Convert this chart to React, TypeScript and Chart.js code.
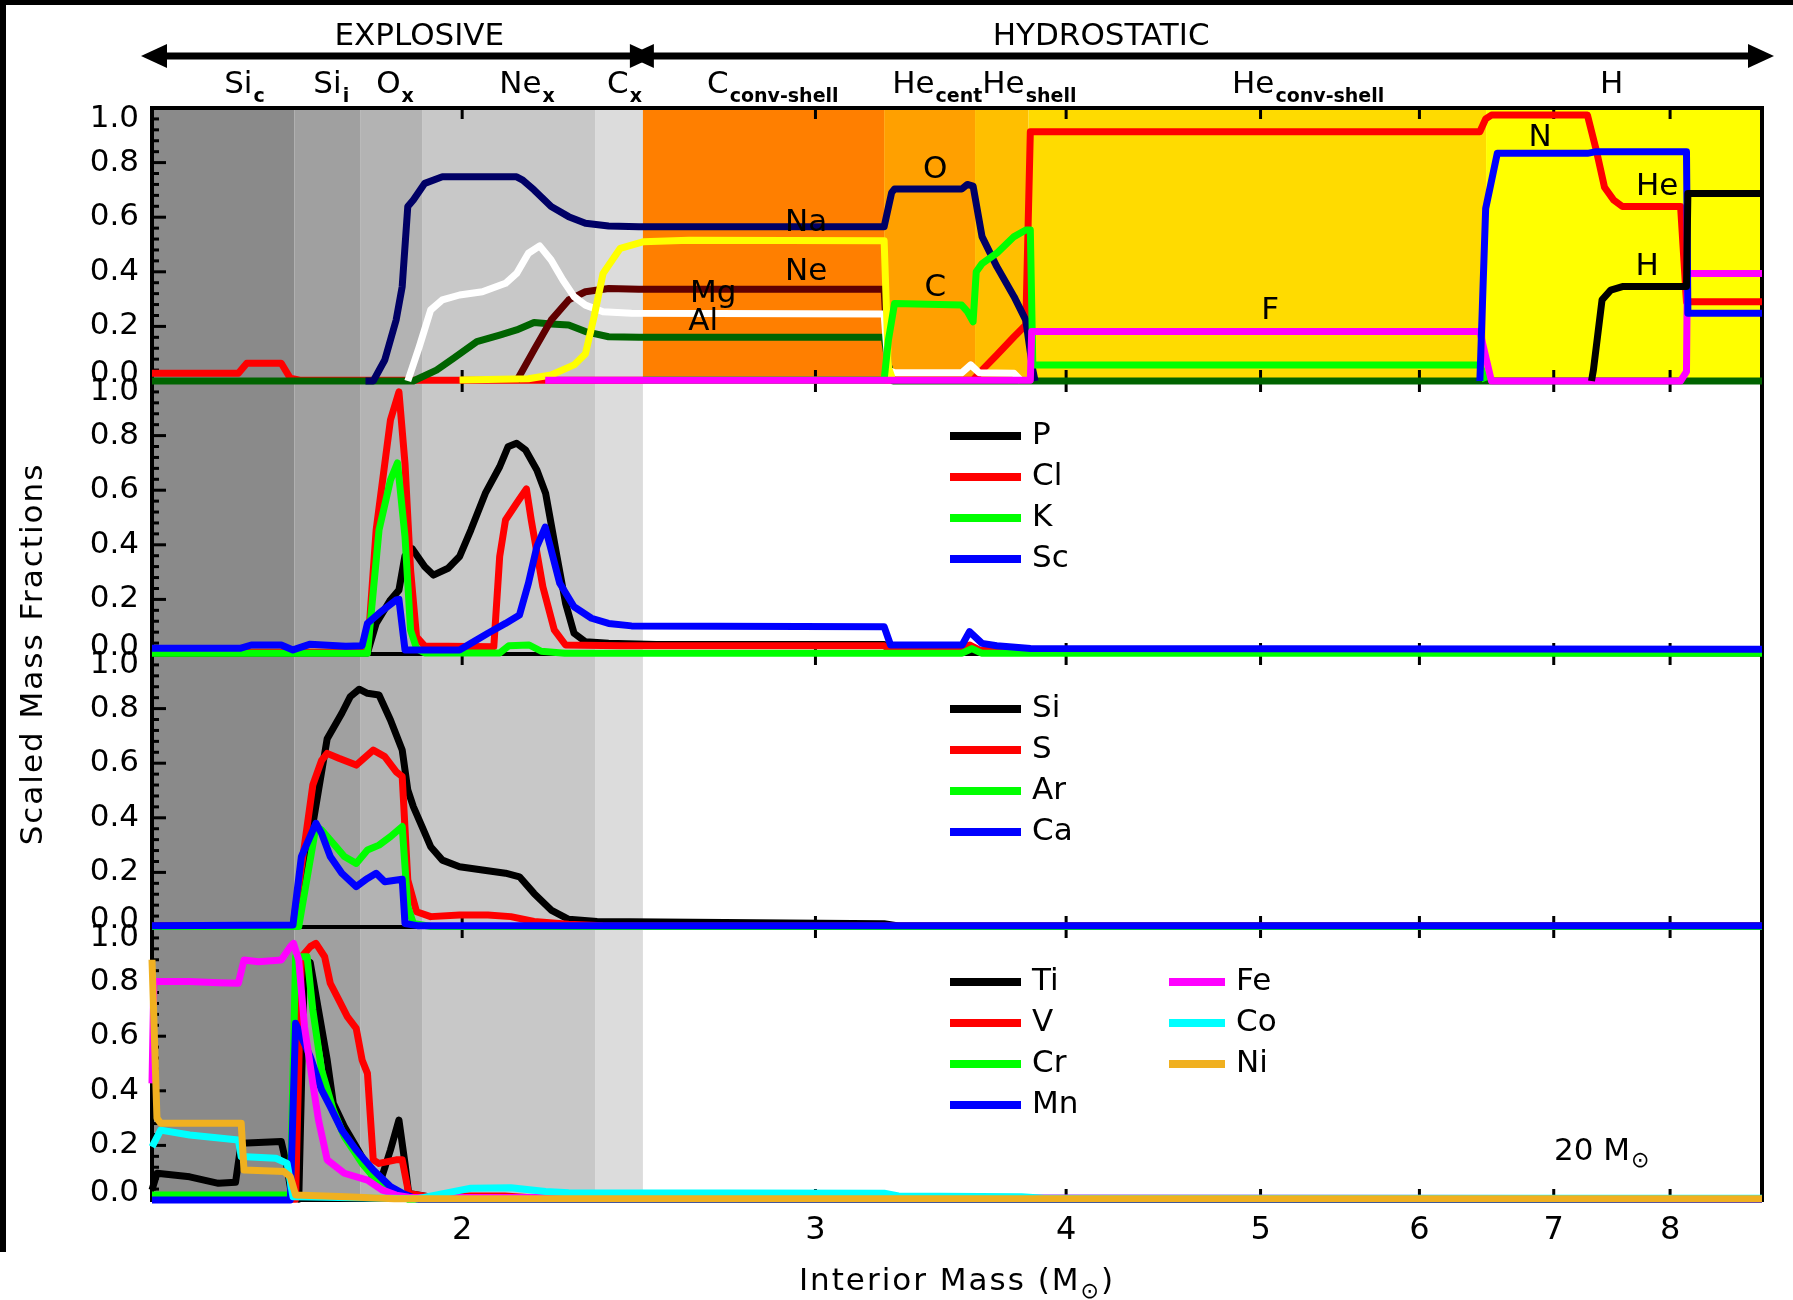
import React, { useEffect, useRef } from "react";
import { Chart, registerables } from "chart.js";

Chart.register(...registerables);

type Pt = [number, number];

// ---------------- axis & zone data ----------------
const massMin = 1.401;
const massMax = 8.89;
const massTicks = [2, 3, 4, 5, 6, 7, 8];
const yTickValues = [0, 0.2, 0.4, 0.6, 0.8, 1.0];

const zoneEdges = [1.401, 1.65, 1.779, 1.91, 2.331, 2.461, 3.246, 3.603, 3.831, 6.477, 8.89];
const zoneMain = ["Si", "Si", "O", "Ne", "C", "C", "He", "He", "He", "H"];
const zoneSub = ["c", "i", "x", "x", "x", "conv-shell", "cent", "shell", "conv-shell", ""];
const zoneLabelMass = [1.522, 1.686, 1.812, 2.087, 2.362, 2.649, 3.276, 3.633, 4.839, 7.381];
const regimeNames = ["EXPLOSIVE", "HYDROSTATIC"];
const regimeLabelMass = [1.904, 4.164];
const regimeBoundaryMass = 2.461;

// ---------------- panel 1 (major species) ----------------
const p1H: Pt[] = [[7.31, 0], [7.326, 0.04], [7.399, 0.297], [7.473, 0.333], [7.574, 0.346], [8.152, 0.346], [8.165, 0.687], [8.89, 0.687]];
const p1N: Pt[] = [[6.431, 0], [6.474, 0.632], [6.561, 0.834], [7.276, 0.834], [7.35, 0.84], [8.152, 0.84], [8.165, 0.248], [8.89, 0.248]];
const p1F: Pt[] = [[2.2, 0.003], [3.839, 0.003], [3.845, 0.181], [6.431, 0.181], [6.474, 0.09], [6.517, 0], [8.097, 0], [8.152, 0.034], [8.16, 0.394], [8.89, 0.394]];
const p1C: Pt[] = [[2.461, 0.004], [3.246, 0.004], [3.262, 0.15], [3.285, 0.284], [3.548, 0.278], [3.571, 0.255], [3.595, 0.217], [3.608, 0.4], [3.632, 0.43], [3.694, 0.468], [3.768, 0.529], [3.819, 0.553], [3.839, 0.553], [3.85, 0.059], [6.431, 0.059], [6.474, 0]];
const p1O: Pt[] = [[1.79, 0], [1.806, 0], [1.83, 0.077], [1.854, 0.223], [1.867, 0.346], [1.879, 0.639], [1.891, 0.663], [1.916, 0.724], [1.955, 0.748], [2.129, 0.748], [2.144, 0.736], [2.172, 0.7], [2.215, 0.639], [2.26, 0.602], [2.304, 0.578], [2.366, 0.568], [2.45, 0.565], [3.246, 0.565], [3.274, 0.69], [3.285, 0.703], [3.548, 0.703], [3.571, 0.72], [3.595, 0.714], [3.632, 0.529], [3.694, 0.419], [3.768, 0.309], [3.819, 0.223], [3.85, 0.04], [3.86, 0]];
const p1Na: Pt[] = [[1.994, 0.004], [2.158, 0.008], [2.215, 0.022], [2.274, 0.059], [2.304, 0.1], [2.327, 0.236], [2.351, 0.394], [2.398, 0.486], [2.461, 0.51], [2.595, 0.516], [3.246, 0.514], [3.262, 0.05], [3.28, 0]];
const p1Mg: Pt[] = [[1.879, 0], [1.904, 0.126], [1.929, 0.26], [1.955, 0.297], [1.994, 0.315], [2.047, 0.327], [2.102, 0.358], [2.129, 0.394], [2.158, 0.468], [2.186, 0.495], [2.215, 0.443], [2.245, 0.37], [2.274, 0.309], [2.304, 0.278], [2.351, 0.254], [2.429, 0.248], [3.246, 0.245], [3.262, 0.04], [3.285, 0.03], [3.548, 0.03], [3.585, 0.059], [3.62, 0.03], [3.768, 0.028], [3.8, 0]];
const p1Ne: Pt[] = [[2.129, 0], [2.172, 0.114], [2.215, 0.223], [2.26, 0.297], [2.304, 0.327], [2.366, 0.339], [2.45, 0.336], [3.246, 0.336], [3.262, 0.05], [3.275, 0]];
const p1Al: Pt[] = [[1.401, 0], [1.891, 0], [1.942, 0.04], [1.98, 0.083], [2.034, 0.144], [2.088, 0.168], [2.129, 0.187], [2.172, 0.214], [2.215, 0.209], [2.26, 0.205], [2.304, 0.181], [2.366, 0.162], [2.45, 0.16], [3.246, 0.16], [3.262, 0.06], [3.28, 0], [8.89, 0]];
const p1He: Pt[] = [[1.401, 0.028], [1.547, 0.028], [1.562, 0.065], [1.625, 0.065], [1.642, 0.01], [1.66, 0.003], [3.595, 0.003], [3.632, 0.04], [3.694, 0.095], [3.768, 0.162], [3.819, 0.205], [3.839, 0.913], [6.431, 0.913], [6.474, 0.96], [6.517, 0.974], [7.276, 0.974], [7.35, 0.846], [7.42, 0.71], [7.498, 0.663], [7.574, 0.639], [8.097, 0.639], [8.152, 0.29], [8.89, 0.29]];

// ---------------- panel 2 ----------------
const p2P: Pt[] = [[1.401, 0.004], [1.794, 0.004], [1.812, 0.112], [1.842, 0.198], [1.86, 0.234], [1.873, 0.36], [1.889, 0.385], [1.916, 0.32], [1.935, 0.289], [1.968, 0.314], [1.994, 0.357], [2.02, 0.454], [2.054, 0.589], [2.088, 0.686], [2.108, 0.759], [2.129, 0.772], [2.151, 0.747], [2.179, 0.674], [2.201, 0.589], [2.23, 0.357], [2.252, 0.186], [2.274, 0.076], [2.304, 0.045], [2.366, 0.039], [2.5, 0.035], [3.246, 0.035], [3.27, 0.008], [8.89, 0.004]];
const p2Cl: Pt[] = [[1.401, 0.006], [1.794, 0.006], [1.812, 0.454], [1.842, 0.857], [1.86, 0.96], [1.873, 0.698], [1.885, 0.308], [1.898, 0.063], [1.916, 0.029], [2.074, 0.027], [2.088, 0.357], [2.102, 0.491], [2.129, 0.552], [2.153, 0.605], [2.165, 0.491], [2.194, 0.247], [2.223, 0.088], [2.252, 0.033], [2.4, 0.03], [3.246, 0.03], [3.27, 0.015], [3.55, 0.015], [3.58, 0.033], [3.62, 0.015], [8.89, 0.012]];
const p2K: Pt[] = [[1.401, 0.003], [1.794, 0.003], [1.818, 0.454], [1.842, 0.637], [1.857, 0.7], [1.873, 0.43], [1.885, 0.088], [1.898, 0.02], [1.916, 0.004], [2.088, 0.004], [2.11, 0.03], [2.16, 0.033], [2.19, 0.01], [2.25, 0.003], [3.55, 0.003], [3.59, 0.02], [3.63, 0.003], [8.89, 0.003]];
const p2Sc: Pt[] = [[1.401, 0.021], [1.55, 0.021], [1.57, 0.033], [1.625, 0.033], [1.647, 0.015], [1.68, 0.036], [1.75, 0.028], [1.783, 0.03], [1.794, 0.112], [1.818, 0.149], [1.854, 0.198], [1.86, 0.2], [1.873, 0.015], [1.994, 0.015], [2.02, 0.039], [2.06, 0.076], [2.102, 0.112], [2.136, 0.143], [2.158, 0.259], [2.179, 0.393], [2.2, 0.465], [2.215, 0.381], [2.237, 0.259], [2.274, 0.173], [2.32, 0.131], [2.366, 0.112], [2.429, 0.103], [3.246, 0.1], [3.27, 0.033], [3.55, 0.033], [3.58, 0.082], [3.632, 0.039], [3.694, 0.03], [3.84, 0.02], [8.89, 0.017]];

// ---------------- panel 3 ----------------
const p3Si: Pt[] = [[1.401, 0.004], [1.652, 0.004], [1.674, 0.25], [1.696, 0.5], [1.713, 0.69], [1.742, 0.783], [1.759, 0.844], [1.777, 0.871], [1.794, 0.856], [1.818, 0.85], [1.842, 0.758], [1.867, 0.648], [1.879, 0.502], [1.891, 0.441], [1.91, 0.368], [1.929, 0.294], [1.955, 0.245], [1.994, 0.221], [2.047, 0.209], [2.102, 0.197], [2.136, 0.184], [2.172, 0.123], [2.215, 0.062], [2.26, 0.028], [2.335, 0.02], [3.246, 0.012], [3.3, 0.004], [8.89, 0.004]];
const p3S: Pt[] = [[1.401, 0.004], [1.647, 0.004], [1.669, 0.3], [1.685, 0.52], [1.702, 0.61], [1.713, 0.636], [1.736, 0.618], [1.771, 0.593], [1.806, 0.648], [1.83, 0.624], [1.854, 0.569], [1.867, 0.551], [1.879, 0.172], [1.898, 0.056], [1.929, 0.038], [1.994, 0.044], [2.06, 0.044], [2.115, 0.038], [2.172, 0.02], [2.26, 0.01], [2.35, 0.005], [8.89, 0.004]];
const p3Ar: Pt[] = [[1.401, 0.002], [1.658, 0.002], [1.691, 0.368], [1.702, 0.355], [1.725, 0.306], [1.747, 0.258], [1.771, 0.233], [1.794, 0.282], [1.818, 0.3], [1.842, 0.331], [1.867, 0.368], [1.879, 0.075], [1.891, 0.013], [1.93, 0.002], [8.89, 0.002]];
const p3Ca: Pt[] = [[1.401, 0.005], [1.647, 0.007], [1.663, 0.258], [1.691, 0.38], [1.702, 0.343], [1.719, 0.258], [1.742, 0.197], [1.771, 0.148], [1.794, 0.178], [1.812, 0.197], [1.83, 0.166], [1.867, 0.175], [1.873, 0.013], [1.9, 0.005], [8.89, 0.005]];

// ---------------- panel 4 ----------------
const p4Ti: Pt[] = [[1.401, 0.037], [1.409, 0.098], [1.463, 0.085], [1.512, 0.061], [1.542, 0.065], [1.552, 0.208], [1.625, 0.214], [1.636, 0.12], [1.645, 0.01], [1.658, 0.003], [1.669, 0.879], [1.68, 0.87], [1.696, 0.696], [1.713, 0.513], [1.725, 0.354], [1.747, 0.269], [1.771, 0.195], [1.794, 0.122], [1.812, 0.061], [1.824, 0.085], [1.842, 0.183], [1.86, 0.293], [1.873, 0.134], [1.881, 0.024], [1.95, 0.005], [8.89, 0.003]];
const p4V: Pt[] = [[1.401, 0.003], [1.652, 0.003], [1.663, 0.89], [1.68, 0.928], [1.691, 0.94], [1.708, 0.891], [1.719, 0.794], [1.736, 0.733], [1.753, 0.672], [1.771, 0.629], [1.783, 0.513], [1.794, 0.464], [1.806, 0.147], [1.818, 0.134], [1.854, 0.147], [1.867, 0.147], [1.881, 0.024], [1.95, 0.005], [1.994, 0.015], [2.1, 0.015], [2.2, 0.005], [8.89, 0.003]];
const p4Cr: Pt[] = [[1.401, 0.018], [1.642, 0.018], [1.652, 0.891], [1.674, 0.891], [1.685, 0.696], [1.702, 0.476], [1.725, 0.33], [1.747, 0.232], [1.783, 0.134], [1.818, 0.061], [1.854, 0.03], [1.88, 0.003], [8.89, 0.002]];
const p4Mn: Pt[] = [[1.401, 0], [1.642, 0], [1.652, 0.647], [1.663, 0.598], [1.68, 0.525], [1.702, 0.403], [1.719, 0.342], [1.742, 0.256], [1.771, 0.183], [1.806, 0.11], [1.842, 0.049], [1.867, 0.025], [1.9, 0.003], [8.89, 0.003]];
const p4Fe: Pt[] = [[1.401, 0.427], [1.404, 0.8], [1.463, 0.8], [1.512, 0.796], [1.547, 0.794], [1.557, 0.879], [1.583, 0.873], [1.625, 0.879], [1.642, 0.928], [1.648, 0.94], [1.658, 0.879], [1.669, 0.635], [1.685, 0.427], [1.696, 0.293], [1.713, 0.147], [1.747, 0.098], [1.794, 0.073], [1.824, 0.037], [1.854, 0.018], [1.881, 0.01], [8.89, 0.005]];
const p4Co: Pt[] = [[1.401, 0.195], [1.415, 0.256], [1.463, 0.238], [1.547, 0.22], [1.552, 0.159], [1.615, 0.153], [1.636, 0.134], [1.647, 0.012], [1.9, 0.005], [1.968, 0.027], [2.02, 0.043], [2.115, 0.045], [2.201, 0.031], [2.26, 0.027], [3.246, 0.025], [3.3, 0.015], [3.8, 0.012], [3.9, 0.006], [8.89, 0.006]];
const p4Ni: Pt[] = [[1.401, 0.88], [1.409, 0.3], [1.415, 0.281], [1.552, 0.281], [1.557, 0.11], [1.63, 0.104], [1.642, 0.085], [1.652, 0.018], [1.75, 0.012], [1.85, 0.005], [8.89, 0.005]];

// panel-1 in-plot species labels: [text, mass, value]
const panel1Labels: [string, number, number][] = [
  ["Na", 2.968, 0.578], ["Ne", 2.968, 0.4], ["Mg", 2.668, 0.32], ["Al", 2.637, 0.216],
  ["O", 3.442, 0.773], ["C", 3.442, 0.34], ["F", 5.055, 0.256],
  ["N", 6.891, 0.89], ["He", 7.882, 0.71], ["H", 7.792, 0.417],
];

// ---------------- series (first = drawn on top) ----------------
type Series = { label: string; data: Pt[]; color: string; axis: string };
const seriesList: Series[] = [
  { label: "Ni", data: p4Ni, color: "#f0b020", axis: "y4" },
  { label: "Co", data: p4Co, color: "#00ffff", axis: "y4" },
  { label: "Fe", data: p4Fe, color: "#ff00ff", axis: "y4" },
  { label: "Mn", data: p4Mn, color: "#0000ff", axis: "y4" },
  { label: "Cr", data: p4Cr, color: "#00ff00", axis: "y4" },
  { label: "V", data: p4V, color: "#ff0000", axis: "y4" },
  { label: "Ti", data: p4Ti, color: "#000000", axis: "y4" },
  { label: "Ca", data: p3Ca, color: "#0000ff", axis: "y3" },
  { label: "Ar", data: p3Ar, color: "#00ff00", axis: "y3" },
  { label: "S", data: p3S, color: "#ff0000", axis: "y3" },
  { label: "Si", data: p3Si, color: "#000000", axis: "y3" },
  { label: "Sc", data: p2Sc, color: "#0000ff", axis: "y2" },
  { label: "K", data: p2K, color: "#00ff00", axis: "y2" },
  { label: "Cl", data: p2Cl, color: "#ff0000", axis: "y2" },
  { label: "P", data: p2P, color: "#000000", axis: "y2" },
  { label: "H", data: p1H, color: "#000000", axis: "y1" },
  { label: "N", data: p1N, color: "#0000ff", axis: "y1" },
  { label: "F", data: p1F, color: "#ff00ff", axis: "y1" },
  { label: "C", data: p1C, color: "#00ff00", axis: "y1" },
  { label: "O", data: p1O, color: "#000066", axis: "y1" },
  { label: "Na", data: p1Na, color: "#ffff00", axis: "y1" },
  { label: "Mg", data: p1Mg, color: "#ffffff", axis: "y1" },
  { label: "Ne", data: p1Ne, color: "#600000", axis: "y1" },
  { label: "Al", data: p1Al, color: "#006400", axis: "y1" },
  { label: "He", data: p1He, color: "#ff0000", axis: "y1" },
];

// legends per panel: [axis, column, labels]
const legendGroups: [string, number, string[]][] = [
  ["y2", 0, ["P", "Cl", "K", "Sc"]],
  ["y3", 0, ["Si", "S", "Ar", "Ca"]],
  ["y4", 0, ["Ti", "V", "Cr", "Mn"]],
  ["y4", 1, ["Fe", "Co", "Ni"]],
];

// ---------------- styling ----------------
const FONT = '"DejaVu Sans", "Liberation Sans", sans-serif';
const panelAxes = ["y1", "y2", "y3", "y4"];
const zoneColors = ["#8a8a8a", "#a0a0a0", "#b3b3b3", "#c8c8c8", "#dcdcdc", "#ff7f00", "#ffa000", "#ffbf00", "#ffdb00", "#ffff00"];
const grayZoneCount = 5;
const LINE_W = 7;

function subText(ctx: CanvasRenderingContext2D, x: number, y: number, main: string, sub: string, mainPx: number, subPx: number, subDy: number, bold: boolean) {
  ctx.textAlign = "left";
  ctx.textBaseline = "alphabetic";
  ctx.font = `${mainPx}px ${FONT}`;
  ctx.fillText(main, x, y);
  let w = ctx.measureText(main).width;
  if (sub) {
    ctx.font = `${bold ? "bold " : ""}${subPx}px ${FONT}`;
    ctx.fillText(sub, x + w + 1, y + subDy);
    w += ctx.measureText(sub).width + 1;
  }
  return w;
}

function arrow(ctx: CanvasRenderingContext2D, x0: number, x1: number, y: number) {
  const hl = 26, hw = 12;
  ctx.lineWidth = 7;
  ctx.beginPath();
  ctx.moveTo(x0 + hl - 2, y);
  ctx.lineTo(x1 - hl + 2, y);
  ctx.stroke();
  ctx.beginPath();
  ctx.moveTo(x0, y); ctx.lineTo(x0 + hl, y - hw); ctx.lineTo(x0 + hl, y + hw); ctx.closePath(); ctx.fill();
  ctx.beginPath();
  ctx.moveTo(x1, y); ctx.lineTo(x1 - hl, y - hw); ctx.lineTo(x1 - hl, y + hw); ctx.closePath(); ctx.fill();
}

const overlay = {
  id: "overlay",
  beforeDatasetsDraw(chart: any) {
    const ctx: CanvasRenderingContext2D = chart.ctx;
    const xs = chart.scales.x;
    const area = chart.chartArea;
    ctx.save();
    panelAxes.forEach((id, pi) => {
      const ys = chart.scales[id];
      for (let i = 0; i < zoneColors.length; i++) {
        if (pi > 0 && i >= grayZoneCount) continue;
        const x0 = xs.getPixelForValue(zoneEdges[i]);
        const x1 = xs.getPixelForValue(zoneEdges[i + 1]);
        ctx.fillStyle = zoneColors[i];
        ctx.fillRect(x0, ys.top, x1 - x0, ys.bottom - ys.top);
      }
    });
    ctx.strokeStyle = "#000";
    ctx.lineCap = "butt";
    panelAxes.forEach((id) => {
      const ys = chart.scales[id];
      // x ticks (inward) at top and bottom of each panel
      ctx.lineWidth = 3;
      massTicks.forEach((v) => {
        const px = xs.getPixelForValue(v);
        ctx.beginPath();
        ctx.moveTo(px, ys.top); ctx.lineTo(px, ys.top + 11);
        ctx.moveTo(px, ys.bottom); ctx.lineTo(px, ys.bottom - 11);
        ctx.stroke();
      });
      // y ticks: major 0.2, minor 0.04
      for (let k = 0; k <= 25; k++) {
        const py = ys.getPixelForValue(k * 0.04);
        const len = k % 5 === 0 ? 14 : 7;
        ctx.beginPath();
        ctx.moveTo(area.left, py); ctx.lineTo(area.left + len, py);
        ctx.stroke();
      }
      ctx.lineWidth = 4;
      ctx.strokeRect(area.left, ys.top, area.right - area.left, ys.bottom - ys.top);
    });
    ctx.restore();
  },
  afterDatasetsDraw(chart: any) {
    const ctx: CanvasRenderingContext2D = chart.ctx;
    const xs = chart.scales.x;
    const area = chart.chartArea;
    const y1 = chart.scales.y1;
    ctx.save();
    ctx.fillStyle = "#000";
    ctx.strokeStyle = "#000";

    // y tick labels
    ctx.font = `31px ${FONT}`;
    ctx.textAlign = "right";
    ctx.textBaseline = "middle";
    panelAxes.forEach((id) => {
      const ys = chart.scales[id];
      yTickValues.forEach((v) => {
        let py = ys.getPixelForValue(v);
        if (v === 1) py += 11;
        if (v === 0) py -= 7;
        ctx.fillText(v.toFixed(1), area.left - 13, py);
      });
    });

    // panel-1 species labels
    ctx.textAlign = "center";
    ctx.textBaseline = "middle";
    ctx.font = `31px ${FONT}`;
    panel1Labels.forEach(([t, m, v]) => {
      ctx.fillText(t, xs.getPixelForValue(m), y1.getPixelForValue(v));
    });

    // legends
    legendGroups.forEach(([axis, col, labels]) => {
      const ys = chart.scales[axis];
      const lx0 = area.left + (col === 0 ? 798 : 1017);
      const lx1 = area.left + (col === 0 ? 869 : 1073);
      labels.forEach((lab, i) => {
        const s = seriesList.find((q) => q.label === lab && q.axis === axis)!;
        const py = ys.top + 55 + 41 * i;
        ctx.strokeStyle = s.color;
        ctx.lineWidth = 8;
        ctx.beginPath();
        ctx.moveTo(lx0, py); ctx.lineTo(lx1, py);
        ctx.stroke();
        ctx.fillStyle = "#000";
        ctx.font = `31px ${FONT}`;
        ctx.textAlign = "left";
        ctx.textBaseline = "middle";
        ctx.fillText(lab, lx1 + 11, py);
      });
    });

    // 20 Msun
    const y4 = chart.scales.y4;
    ctx.fillStyle = "#000";
    subText(ctx, area.left + 1402, y4.top + 233, "20 M", "\u2299", 31, 22, 7, false);

    // zone labels
    const zoneBase = area.top - 15;
    zoneMain.forEach((m, i) => {
      subText(ctx, xs.getPixelForValue(zoneLabelMass[i]), zoneBase, m, zoneSub[i], 31, 19, 9, true);
    });

    // regime labels + arrows
    ctx.font = `31px ${FONT}`;
    ctx.textAlign = "center";
    ctx.textBaseline = "alphabetic";
    regimeNames.forEach((n, i) => {
      ctx.fillText(n, xs.getPixelForValue(regimeLabelMass[i]), 45);
    });
    ctx.strokeStyle = "#000";
    const bx = xs.getPixelForValue(regimeBoundaryMass);
    arrow(ctx, area.left - 11, bx + 13, 56);
    arrow(ctx, bx - 15, area.right + 12, 56);

    // y title
    ctx.save();
    ctx.translate(34, (area.top + area.bottom) / 2);
    ctx.rotate(-Math.PI / 2);
    ctx.textAlign = "center";
    ctx.textBaseline = "middle";
    (ctx as any).letterSpacing = "2px";
    ctx.font = `31px ${FONT}`;
    ctx.fillText("Scaled Mass Fractions", 0, 0);
    ctx.restore();

    // x title
    ctx.save();
    (ctx as any).letterSpacing = "2px";
    ctx.font = `31px ${FONT}`;
    const t1 = "Interior Mass (M";
    const w1 = ctx.measureText(t1).width;
    ctx.font = `22px ${FONT}`;
    const w2 = ctx.measureText("\u2299").width;
    ctx.font = `31px ${FONT}`;
    const w3 = ctx.measureText(")").width;
    let x = (area.left + area.right) / 2 - (w1 + w2 + w3) / 2;
    ctx.textAlign = "left";
    ctx.textBaseline = "alphabetic";
    ctx.fillText(t1, x, 1290);
    x += w1;
    ctx.font = `22px ${FONT}`;
    ctx.fillText("\u2299", x, 1298);
    x += w2;
    ctx.font = `31px ${FONT}`;
    ctx.fillText(")", x, 1290);
    ctx.restore();

    ctx.restore();
  },
  afterDraw(chart: any) {
    const ctx: CanvasRenderingContext2D = chart.ctx;
    ctx.save();
    ctx.fillStyle = "#000";
    ctx.fillRect(0, 0, chart.width, 5);
    ctx.fillRect(0, 0, 6, 1252);
    ctx.restore();
  },
};

export default function App() {
  const ref = useRef<HTMLCanvasElement | null>(null);
  useEffect(() => {
    const canvas = ref.current;
    if (!canvas) return;
    const datasets = seriesList.map((s) => ({
      label: s.label,
      data: s.data.map(([x, y]) => ({ x, y })),
      yAxisID: s.axis,
      borderColor: s.color,
      backgroundColor: s.color,
      borderWidth: LINE_W,
      pointRadius: 0,
      tension: 0,
      fill: false,
      clip: false as any,
      borderJoinStyle: "round" as const,
    }));
    const yScale = (weight: number) => ({
      type: "linear" as const,
      min: 0,
      max: 1,
      display: false,
      position: "left" as const,
      stack: "panels",
      stackWeight: 1,
      weight,
    });
    const chart = new Chart(canvas, {
      type: "line",
      data: { datasets: datasets as any },
      options: {
        responsive: false,
        animation: false,
        devicePixelRatio: 1,
        events: [],
        layout: { padding: { left: 152, right: 31, top: 108, bottom: 0 } },
        plugins: { legend: { display: false }, tooltip: { enabled: false } },
        scales: {
          x: {
            type: "logarithmic",
            min: massMin,
            max: massMax,
            position: "bottom",
            grid: { display: false, drawTicks: false },
            border: { display: false },
            ticks: {
              autoSkip: false,
              maxRotation: 0,
              padding: 11,
              color: "#000",
              font: { family: FONT, size: 32 },
              callback: (v: any) => String(v),
            },
            afterBuildTicks: (s: any) => {
              s.ticks = massTicks.map((v) => ({ value: v }));
            },
            afterFit: (s: any) => {
              s.height = 100;
            },
          },
          y1: yScale(4),
          y2: yScale(3),
          y3: yScale(2),
          y4: yScale(1),
        } as any,
      },
      plugins: [overlay],
    });
    return () => chart.destroy();
  }, []);
  return (
    <div style={{ position: "absolute", left: 0, top: 0, width: 1793, height: 1300, background: "#fff" }}>
      <canvas ref={ref} width={1793} height={1300} style={{ display: "block" }} />
    </div>
  );
}
